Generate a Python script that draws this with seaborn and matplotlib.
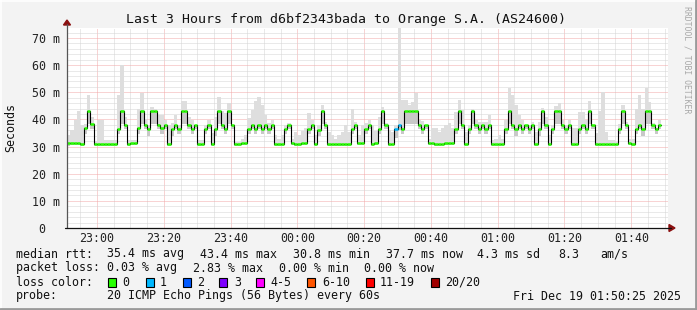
import numpy as np
import matplotlib
matplotlib.use("Agg")
import matplotlib.pyplot as plt
from matplotlib.patches import Rectangle, Polygon
from matplotlib.lines import Line2D
import seaborn as sns

# ---------------- data ----------------
title = "Last 3 Hours from d6bf2343bada to Orange S.A. (AS24600)"
x_tick_labels = ["23:00", "23:20", "23:40", "00:00", "00:20", "00:40", "01:00", "01:20", "01:40"]
x_tick_minutes = [9, 29, 49, 69, 89, 109, 129, 149, 169]   # minutes after 22:51
x_span_minutes = 180
y_tick_values = [0, 10, 20, 30, 40, 50, 60, 70]
y_tick_labels = ["0  ", "10 m", "20 m", "30 m", "40 m", "50 m", "60 m", "70 m"]
y_top = 73.7

# median rtt per minute sample (ms)
median_ms = [
    31.2, 31.3, 31.5, 31.5, 31.0, 36.7, 43.2, 38.2, 30.8, 30.8,
    30.8, 30.8, 30.8, 30.8, 30.8, 36.6, 43.2, 38.0, 31.0, 31.2,
    31.2, 36.7, 43.2, 38.0, 36.3, 43.2, 43.2, 38.0, 36.7, 38.0,
    30.8, 36.3, 38.0, 36.6, 43.2, 43.2, 38.0, 36.6, 38.0, 31.0,
    31.0, 36.6, 38.0, 31.0, 36.3, 43.2, 38.0, 36.6, 43.2, 38.0,
    30.8, 30.8, 31.2, 31.2, 36.6, 38.0, 36.6, 38.0, 36.6, 38.0,
    36.6, 38.0, 30.8, 30.8, 30.8, 36.6, 38.0, 31.2, 31.0, 31.0,
    31.2, 31.2, 36.6, 38.0, 30.8, 36.0, 43.2, 38.0, 30.8, 30.8,
    31.0, 31.0, 30.8, 30.8, 30.8, 36.6, 38.0, 31.2, 31.2, 36.6,
    38.0, 30.8, 31.2, 36.6, 43.2, 38.0, 30.8, 30.8, 36.3, 38.0,
    36.6, 43.2, 43.2, 43.2, 43.2, 38.0, 36.6, 38.0, 31.2, 31.2,
    31.0, 31.0, 31.0, 31.2, 31.2, 31.2, 36.6, 43.2, 38.0, 30.8,
    36.6, 43.2, 38.0, 36.6, 38.0, 36.6, 38.0, 30.8, 30.8, 30.8,
    30.8, 36.6, 43.2, 38.0, 36.3, 38.0, 36.6, 38.0, 36.6, 38.0,
    30.8, 36.3, 43.2, 38.0, 30.8, 36.6, 43.2, 43.2, 38.0, 36.6,
    38.0, 30.8, 30.8, 36.6, 38.0, 36.6, 43.2, 38.0, 30.8, 30.8,
    30.8, 30.8, 30.8, 30.8, 30.8, 36.6, 43.2, 38.0, 31.2, 30.8,
    36.6, 38.0, 36.3, 43.2, 43.2, 38.0, 36.6, 38.0,
]

# top of the smoke (slowest ping) per sample (ms)
smoke_hi = [
    34.3, 36.1, 39.8, 43.0, 38.0, 38.5, 49.0, 41.0, 32.0, 39.8,
    39.8, 32.3, 32.3, 32.3, 32.3, 49.0, 60.0, 41.0, 32.3, 32.3,
    32.3, 44.0, 49.6, 40.0, 38.0, 44.7, 44.0, 41.8, 41.5, 39.8,
    38.0, 38.6, 41.8, 38.0, 46.8, 46.8, 41.0, 39.8, 38.0, 32.3,
    32.3, 38.0, 39.8, 34.9, 41.0, 48.4, 43.0, 42.2, 45.9, 38.0,
    31.8, 31.8, 32.9, 34.1, 40.4, 43.4, 46.8, 48.4, 45.3, 41.5,
    38.6, 39.8, 34.1, 32.9, 34.1, 38.0, 38.6, 32.9, 35.5, 34.1,
    35.7, 36.9, 42.2, 39.8, 34.1, 38.0, 45.3, 39.2, 35.5, 34.1,
    32.9, 34.1, 35.5, 38.0, 35.5, 43.8, 39.2, 34.4, 38.0, 38.6,
    39.8, 38.0, 35.7, 41.0, 44.7, 38.6, 36.1, 35.5, 38.0, 73.6,
    47.2, 47.2, 45.3, 46.5, 49.6, 39.8, 39.4, 38.0, 32.9, 36.7,
    36.7, 35.5, 36.7, 38.0, 38.6, 36.9, 42.9, 47.2, 43.4, 35.5,
    38.0, 44.0, 39.8, 39.2, 39.2, 39.2, 41.5, 32.3, 32.9, 34.1,
    32.9, 39.8, 51.5, 49.0, 45.3, 41.8, 39.8, 38.0, 38.0, 39.2,
    35.5, 39.2, 44.4, 41.0, 34.1, 38.0, 45.1, 45.9, 39.8, 38.0,
    39.8, 36.7, 36.7, 42.6, 42.6, 39.8, 46.8, 38.0, 34.9, 43.0,
    50.2, 35.5, 32.3, 32.3, 31.8, 38.2, 45.3, 39.2, 32.9, 32.9,
    44.0, 49.0, 44.0, 51.5, 46.5, 38.6, 36.7, 39.8,
]

# bottom of the smoke (fastest ping) per sample (ms)
smoke_lo = [
    30.4, 30.5, 30.6, 30.6, 30.3, 34.5, 38.5, 36.5, 30.3, 30.3,
    30.4, 30.3, 30.3, 30.4, 30.3, 34.5, 38.5, 36.5, 30.4, 30.5,
    30.5, 34.5, 38.5, 36.5, 34.0, 38.5, 38.5, 36.5, 34.5, 36.5,
    30.3, 34.0, 36.5, 34.5, 38.5, 38.5, 36.5, 34.5, 36.5, 30.4,
    30.4, 34.5, 36.5, 30.4, 34.0, 38.5, 36.5, 34.5, 38.5, 36.5,
    30.3, 30.3, 30.5, 30.5, 34.5, 36.5, 34.5, 36.5, 34.5, 36.5,
    34.5, 36.5, 30.3, 30.3, 30.3, 34.5, 36.5, 30.5, 30.4, 30.4,
    30.5, 30.5, 34.5, 36.5, 30.3, 34.0, 38.5, 36.5, 30.3, 30.3,
    30.4, 30.4, 30.3, 30.3, 30.3, 34.5, 36.5, 30.5, 30.5, 34.5,
    36.5, 30.3, 30.5, 34.5, 38.5, 36.5, 30.3, 30.3, 33.0, 36.0,
    34.5, 38.5, 38.5, 38.5, 38.5, 36.5, 34.5, 36.5, 30.5, 30.5,
    30.4, 30.4, 30.4, 30.5, 30.5, 30.5, 34.5, 38.5, 36.5, 30.3,
    34.5, 38.5, 36.5, 34.5, 36.5, 34.5, 36.5, 30.3, 30.3, 30.3,
    30.3, 34.5, 38.5, 36.5, 34.0, 36.5, 34.5, 36.5, 34.5, 36.5,
    30.3, 34.0, 38.5, 36.5, 30.3, 34.5, 38.5, 38.5, 36.5, 34.5,
    36.5, 30.3, 30.3, 34.5, 36.5, 34.5, 38.5, 36.5, 30.3, 30.3,
    30.3, 30.3, 30.3, 30.3, 30.3, 34.5, 38.5, 36.5, 30.5, 30.3,
    34.5, 36.5, 34.0, 38.5, 38.5, 36.5, 34.5, 36.5,
]

# samples with lost pings (sample index -> lost count)
loss_events = {98: 1, 99: 1}

loss_labels = ["0", "1", "2", "3", "4-5", "6-10", "11-19", "20/20"]
loss_colors = ["#26ff00", "#00b8ff", "#0059ff", "#7e00ff", "#ff00ff", "#ff5500", "#ff0000", "#a10000"]

legend_rows = [
    [("median rtt:", 16), ("35.4 ms avg", 107), ("43.4 ms max", 200), ("30.8 ms min", 293),
     ("37.7 ms now", 386), ("4.3 ms sd", 477), ("8.3", 558), ("am/s", 600)],
    [("packet loss:", 16), ("0.03 % avg", 107), ("2.83 % max", 193), ("0.00 % min", 279),
     ("0.00 % now", 364)],
]
probe_text = "20 ICMP Echo Pings (56 Bytes) every 60s"
stamp_text = "Fri Dec 19 01:50:25 2025"

# ---------------- figure ----------------
W, H = 697, 310
sns.set_style("white")
plt.rcParams["font.family"] = ["DejaVu Sans Mono", "DejaVu Sans"]
MONO = "DejaVu Sans Mono"

fig = plt.figure(figsize=(W / 100, H / 100), dpi=100, facecolor="#f3f3f3")

def fx(x):
    return x / W

def fy(y):
    return 1 - y / H

L, R, T, B = 67, 668, 28, 228
ax = fig.add_axes([fx(L), fy(B), (R - L) / W, (B - T) / H])
ax.set_facecolor("white")

n = len(median_ms)
idx = np.arange(n)
med = np.array(median_ms)
hi = np.array(smoke_hi)
lo = np.array(smoke_lo)

# smoke
ax.bar(idx, hi - lo, bottom=lo, width=1.0, align="edge", color="#dedede", linewidth=0, zorder=1)
ax.bar(idx, np.clip(med - lo, 0, None), bottom=lo, width=1.0, align="edge", color="#c8c8c8",
       linewidth=0, zorder=1.1)

# median step line
edges = np.append(idx, idx[-1] + 1)
vals = np.append(med, med[-1])
sns.lineplot(x=edges, y=vals, drawstyle="steps-post", color="black", linewidth=0.8,
             estimator=None, sort=False, ax=ax, zorder=3)

# loss coloured median caps
cap_colors = []
for i in idx:
    lost = loss_events.get(int(i), 0)
    cap_colors.append(loss_colors[1] if lost == 1 else loss_colors[0] if lost == 0 else loss_colors[2])
ax.hlines(med, idx, idx + 1, colors=cap_colors, linewidth=1.8, zorder=4)

ax.set_xlim(0, x_span_minutes)
ax.set_ylim(0, y_top)

ax.set_xticks(x_tick_minutes)
ax.set_xticklabels(x_tick_labels, fontsize=8.4, family=MONO, color="#222222")
ax.set_xticks(np.arange(4, x_span_minutes, 5), minor=True)
ax.set_yticks(y_tick_values)
ax.set_yticklabels(y_tick_labels, fontsize=8.4, family=MONO, color="#222222")
ax.set_yticks(np.arange(0, y_top, 2), minor=True)
ax.tick_params(axis="both", which="both", length=0)
ax.tick_params(axis="y", pad=5)
ax.tick_params(axis="x", pad=3)
ax.set_xlabel("")
ax.set_ylabel("")

ax.grid(which="minor", color="#d4d4d4", linestyle=(0, (1, 1)), linewidth=0.72, zorder=0)
ax.grid(which="major", color="#f2a8a8", linestyle=(0, (1, 1)), linewidth=0.72, zorder=0)
ax.set_axisbelow(True)
for s in ax.spines.values():
    s.set_visible(False)

# axes lines and arrows (pixel space)
fig.add_artist(Line2D([fx(L), fx(L)], [fy(B), fy(24)], color="#555555", linewidth=0.9))
fig.add_artist(Line2D([fx(L - 2), fx(671)], [fy(B), fy(B)], color="#111111", linewidth=0.9))
fig.add_artist(Polygon([[fx(L - 3.5), fy(25)], [fx(L + 3.5), fy(25)], [fx(L), fy(20)]],
                       closed=True, color="#8b1010", transform=fig.transFigure))
fig.add_artist(Polygon([[fx(669), fy(B - 3.5)], [fx(669), fy(B + 3.5)], [fx(675), fy(B)]],
                       closed=True, color="#8b1010", transform=fig.transFigure))

# title and labels
fig.text(fx(346), fy(19), title, ha="center", va="center", fontsize=9.5, family=MONO, color="#111111")
fig.text(fx(11), fy(128), "Seconds", ha="center", va="center", rotation=90, fontsize=8.4,
         family=MONO, color="#111111")
fig.text(fx(687.5), fy(60), "RRDTOOL / TOBI OETIKER", ha="center", va="center", rotation=270,
         fontsize=5.9, family=MONO, color="#a8a8a8")

# legend rows
row_y = [254, 268, 282, 296]
for r, row in enumerate(legend_rows):
    for txt, x in row:
        fig.text(fx(x), fy(row_y[r]), txt, ha="left", va="center", fontsize=8.4, family=MONO,
                 color="#111111")

fig.text(fx(16), fy(row_y[2]), "loss color:", ha="left", va="center", fontsize=8.4, family=MONO,
         color="#111111")
box_x = [108, 146, 183, 219, 256, 307, 366, 431]
lab_x = [122.5, 160, 197, 234, 270.5, 322, 380, 445.5]
for c, lab, bx, lx in zip(loss_colors, loss_labels, box_x, lab_x):
    fig.add_artist(Rectangle((fx(bx), fy(row_y[2] + 4.5)), 8 / W, 9 / H, facecolor=c,
                             edgecolor="black", linewidth=0.8, transform=fig.transFigure))
    fig.text(fx(lx), fy(row_y[2]), lab, ha="left", va="center", fontsize=8.4, family=MONO,
             color="#111111")

fig.text(fx(16), fy(row_y[3]), "probe:", ha="left", va="center", fontsize=8.4, family=MONO,
         color="#111111")
fig.text(fx(107), fy(row_y[3]), probe_text, ha="left", va="center", fontsize=8.4, family=MONO,
         color="#111111")
fig.text(fx(513), fy(row_y[3]), stamp_text, ha="left", va="center", fontsize=8.4, family=MONO,
         color="#111111")

# frame
fig.add_artist(Line2D([0, 1], [fy(0.5), fy(0.5)], color="#ffffff", linewidth=1.2))
fig.add_artist(Line2D([fx(0.5), fx(0.5)], [0, 1], color="#ffffff", linewidth=1.2))
fig.add_artist(Line2D([0, 1], [fy(H - 1.2), fy(H - 1.2)], color="#9a9a9a", linewidth=2.0))
fig.add_artist(Line2D([fx(W - 1.2), fx(W - 1.2)], [0, 1], color="#9a9a9a", linewidth=2.0))

fig.savefig("out.png", dpi=100, facecolor=fig.get_facecolor())
